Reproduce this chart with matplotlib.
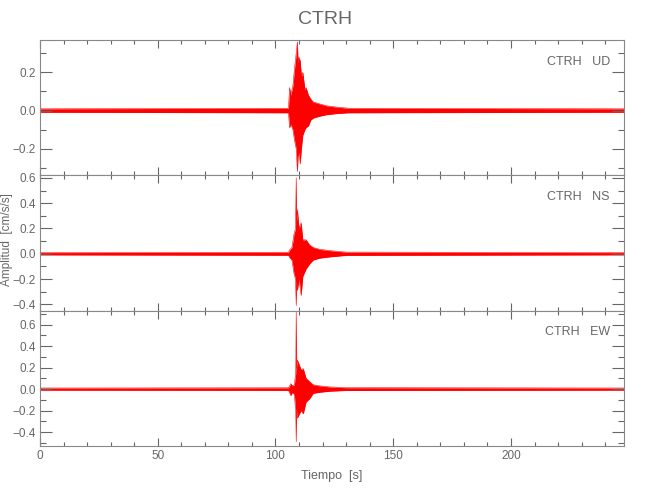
import matplotlib
matplotlib.use("Agg")
import matplotlib.pyplot as plt
from matplotlib.ticker import MultipleLocator

plt.rcParams['font.family'] = ['Liberation Sans', 'DejaVu Sans']

station = "CTRH"
components = ["UD", "NS", "EW"]

# envelope of each trace (time [s], upper, lower)
t_ud = [0, 105.5, 106.0, 106.5, 107.4, 108.0, 108.8, 109.3, 109.6, 110.0, 110.5,
        111.0, 111.6, 112.5, 113.0, 114.0, 115.0, 116.0, 118.7, 121.6, 126.0, 131.0, 248]
up_ud = [0.009, 0.012, 0.12, 0.08, 0.13, 0.21, 0.30, 0.36, 0.25, 0.28, 0.26,
         0.18, 0.20, 0.11, 0.12, 0.08, 0.06, 0.045, 0.035, 0.025, 0.018, 0.012, 0.009]
lo_ud = [-0.009, -0.012, -0.09, -0.07, -0.10, -0.15, -0.20, -0.32, -0.24, -0.22, -0.28,
         -0.20, -0.13, -0.10, -0.09, -0.08, -0.05, -0.04, -0.03, -0.022, -0.016, -0.012, -0.009]

t_ns = [0, 105.5, 106.0, 107.0, 107.8, 108.5, 108.8, 109.0, 109.3, 110.0, 110.9,
        111.6, 113.0, 114.5, 116.0, 118.7, 123.0, 130.0, 248]
up_ns = [0.009, 0.012, 0.03, 0.05, 0.15, 0.20, 0.60, 0.25, 0.35, 0.20, 0.245,
         0.11, 0.11, 0.07, 0.05, 0.035, 0.025, 0.013, 0.009]
lo_ns = [-0.009, -0.012, -0.03, -0.05, -0.15, -0.20, -0.41, -0.25, -0.29, -0.20, -0.33,
         -0.18, -0.12, -0.08, -0.05, -0.035, -0.025, -0.013, -0.009]

t_ew = [0, 105.5, 106.5, 107.2, 108.0, 108.6, 108.8, 109.0, 109.3, 110.2, 110.9,
        111.8, 113.0, 114.5, 116.0, 118.7, 123.0, 130.0, 248]
up_ew = [0.01, 0.012, 0.05, 0.03, 0.04, 0.15, 0.72, 0.20, 0.27, 0.22, 0.18,
         0.19, 0.10, 0.07, 0.04, 0.03, 0.02, 0.013, 0.01]
lo_ew = [-0.01, -0.012, -0.06, -0.03, -0.05, -0.20, -0.49, -0.20, -0.27, -0.23, -0.20,
         -0.23, -0.12, -0.09, -0.04, -0.03, -0.02, -0.013, -0.01]

traces = [(t_ud, up_ud, lo_ud), (t_ns, up_ns, lo_ns), (t_ew, up_ew, lo_ew)]
ylims = [(-0.34, 0.37), (-0.45, 0.62), (-0.53, 0.73)]

gray = "#666666"
fig = plt.figure(figsize=(6.5, 5), dpi=100)
fig.subplots_adjust(left=40/650, right=624/650, top=1-40/500, bottom=1-446/500,
                    hspace=0)
axes = fig.subplots(3, 1, sharex=True)

for ax, comp, (t, up, lo), yl in zip(axes, components, traces, ylims):
    ax.fill_between(t, lo, up, color="red", lw=0)
    ax.plot(t, up, color="red", lw=0.4)
    ax.plot(t, lo, color="red", lw=0.4)
    ax.set_xlim(0, 248)
    ax.set_ylim(*yl)
    ax.xaxis.set_major_locator(MultipleLocator(50))
    ax.xaxis.set_minor_locator(MultipleLocator(10))
    ax.yaxis.set_major_locator(MultipleLocator(0.2))
    ax.yaxis.set_minor_locator(MultipleLocator(0.1))
    ax.yaxis.set_major_formatter(
        lambda v, p: ("%.1f" % v).replace("-", "\u2212") if abs(v) > 1e-9 else "0.0")
    ax.tick_params(which="both", direction="in", top=True, right=True,
                   color=gray, labelcolor=gray, labelsize=8.5, width=0.8, pad=3)
    ax.tick_params(axis="x", which="major", length=6)
    ax.tick_params(axis="x", which="minor", length=3)
    ax.tick_params(axis="y", which="major", length=8.5)
    ax.tick_params(axis="y", which="minor", length=4.2)
    for s in ax.spines.values():
        s.set_color("#888888")
        s.set_linewidth(0.8)
    ax.text(0.976, 0.84, "%s   %s" % (station, comp), transform=ax.transAxes,
            ha="right", va="center", color=gray, fontsize=9)

fig.suptitle(station, y=1-20/500, color=gray, fontsize=14, va="center")
fig.text(7/650, 1-240/500, "Amplitud  [cm/s/s]", rotation=90, ha="center",
         va="center", color=gray, fontsize=8.5)
axes[-1].set_xlabel("Tiempo  [s]", color=gray, fontsize=9, labelpad=6)

fig.savefig("out.png", dpi=100)
